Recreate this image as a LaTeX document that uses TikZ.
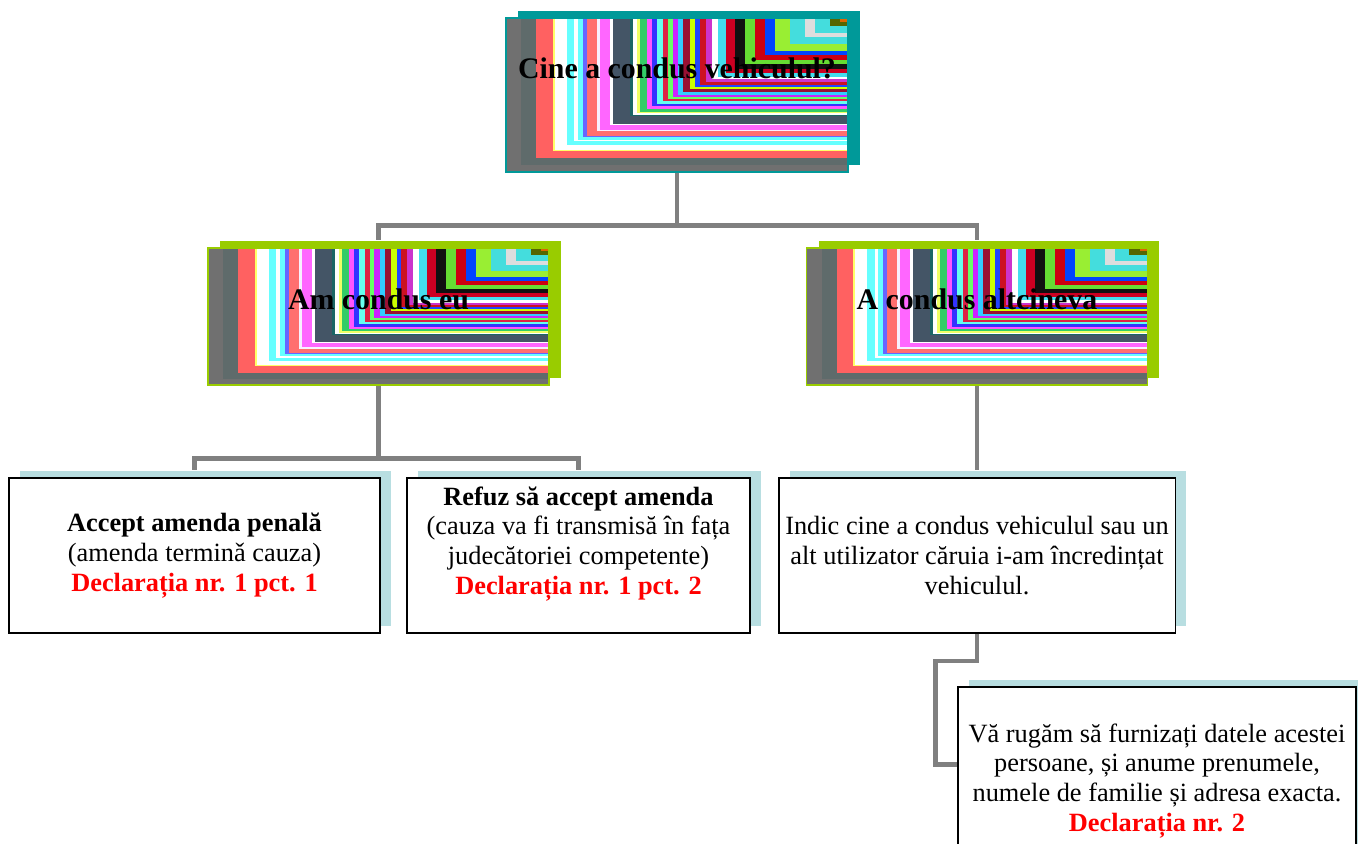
\documentclass[tikz,border=0pt]{standalone}
\usepackage{fontspec}
\setmainfont{Liberation Serif}
\usetikzlibrary{calc,shadows}

\definecolor{linkgray}{HTML}{808080}
\definecolor{tealedge}{HTML}{009999}
\definecolor{limeedge}{HTML}{99CC00}
\definecolor{shadowblue}{HTML}{B8DEE1}
\definecolor{declred}{HTML}{FF0000}

\newcommand{\decl}[1]{\textcolor{declred}{\textbf{#1}}}

\tikzset{
  stripes/.style={path picture={
      \foreach \s/\h in {1/707070,.955/5F6B6B,.912/FF6161,.863/FFFF66,.857/FFFFFF,
        .822/66FFFF,.80/FFFFFF,.79/66FFFF,.775/6666FF,.763/FF6F6F,.734/F8F0FF,
        .725/FF66FF,.696/FFFFFF,.687/445566,.637/1A6666,.629/FFFFFF,.617/EEFF66,
        .608/33CC66,.588/FF55FF,.573/3333FF,.558/66FFEE,.541/DD2244,.526/66FF66,
        .512/CC22FF,.497/33CCFF,.482/991133,.462/CCFF00,.447/2244FF,.433/CC1122,
        .415/CC33CC,.398/FFFFFF,.380/44DDEE,.357/CC0022,.330/111111,.301/66DD33,
        .272/CC0011,.243/0044FF,.213/99EE33,.170/44DDDD,.126/DDDDDD,.096/44DDDD,
        .053/556600,.023/DD6600}{
        \definecolor{stripe}{HTML}{\h}
        \fill[stripe] (path picture bounding box.north east) rectangle
          ($(path picture bounding box.north east)!\s!(path picture bounding box.south west)$);
      }}},
  header/.style={draw=#1, line width=.8pt, stripes, inner sep=0pt,
    general shadow={fill=#1, shadow xshift=.24cm, shadow yshift=.14cm},
    text height=.45cm, font=\fontsize{17}{20}\selectfont\bfseries},
  box/.style={draw=black, line width=1.1pt, fill=white, align=center,
    general shadow={fill=shadowblue, shadow xshift=.22cm, shadow yshift=.14cm},
    minimum height=3.1cm, inner sep=2pt, font=\fontsize{15}{17}\selectfont},
  link/.style={draw=linkgray, line width=2.8pt}
}

\begin{document}
\begin{tikzpicture}[x=0.02cm,y=-0.02cm]
  \useasboundingbox (0,0) rectangle (1358,843);
  \clip (0,0) rectangle (1358,843);

  % question and the two answers
  \node[header=tealedge, minimum width=6.84cm, minimum height=3.08cm, text depth=1.1cm]
    (who) at (677,95) {Cine a condus vehiculul?};
  \node[header=limeedge, minimum width=6.82cm, minimum height=2.74cm, text depth=.75cm]
    (me) at (378.5,316.5) {Am condus eu};
  \node[header=limeedge, minimum width=6.82cm, minimum height=2.74cm, text depth=.75cm]
    (other) at (977,316.5) {A condus altcineva};

  % what follows
  \node[box, minimum width=7.42cm] (accept) at (194.5,555.5)
    {\textbf{Accept amenda penală}\\(amenda terminǎ cauza)\\\decl{Declarația nr. 1 pct. 1}};
  \node[box, minimum width=6.86cm] (refuse) at (578.5,555.5)
    {\textbf{Refuz să accept amenda}\\(cauza va fi transmisă în fața\\judecătoriei competente)\\\decl{Declarația nr. 1 pct. 2}\\\mbox{}};
  \node[box, minimum width=7.94cm] (indic) at (977,555.5)
    {Indic cine a condus vehiculul sau un\\alt utilizator căruia i-am încredințat\\vehiculul.};
  \node[box, minimum width=7.96cm, minimum height=3.76cm] (data) at (1157,781)
    {Vă rugăm să furnizați datele acestei\\persoane, și anume prenumele,\\numele de familie și adresa exacta.\\\decl{Declarația nr. 2}};

  % connectors
  \draw[link] (who.south) -- ++(0,53) -| ([yshift=.14cm]me.north);
  \draw[link] (who.south) -- ++(0,53) -| ([yshift=.14cm]other.north);
  \draw[link] (me.south) -- ++(0,73) -| ([yshift=.14cm]accept.north);
  \draw[link] (me.south) -- ++(0,73) -| ([yshift=.14cm]refuse.north);
  \draw[link] (other.south) -- ([yshift=.14cm]indic.north);
  \coordinate (datain) at ($(data.north west)+(0,78)$);
  \draw[link] (indic.south) -- ++(0,27) -| ($(datain)+(-22,0)$) -- (datain);
\end{tikzpicture}
\end{document}
